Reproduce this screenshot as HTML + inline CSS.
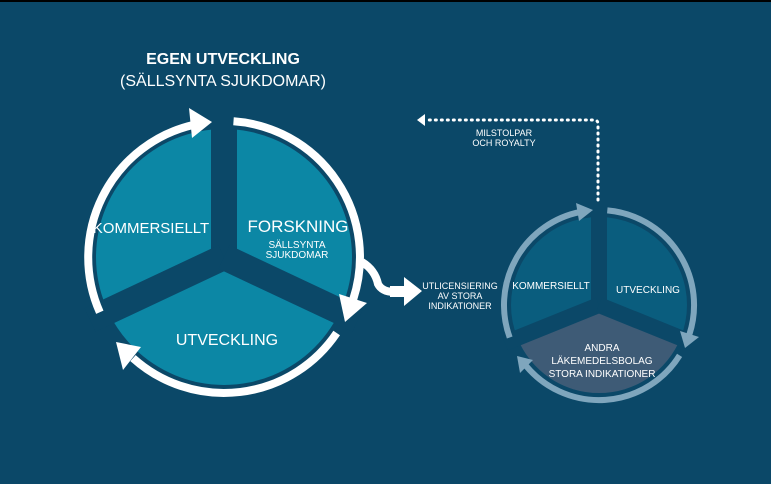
<!DOCTYPE html>
<html><head><meta charset="utf-8"><style>
html,body{margin:0;padding:0;background:#0b4868;}
svg{display:block;}
text{font-family:"Liberation Sans",sans-serif;fill:#fff;}
</style></head><body>
<svg width="771" height="484" viewBox="0 0 771 484" xmlns="http://www.w3.org/2000/svg">
<rect width="771" height="484" fill="#0b4868"/>
<rect width="771" height="2" fill="#000"/>
<text x="223" y="64" font-size="16" font-weight="bold" text-anchor="middle">EGEN UTVECKLING</text>
<text x="223" y="86" font-size="16" text-anchor="middle">(SÄLLSYNTA SJUKDOMAR)</text>

<!-- big circle -->
<circle cx="224" cy="257" r="128" fill="#0c87a5"/>
<g stroke="#0b4868" stroke-width="26" stroke-linecap="butt">
<line x1="224" y1="257" x2="224" y2="110"/>
<line x1="224" y1="257" x2="90" y2="320"/>
<line x1="224" y1="257" x2="358" y2="320"/>
</g>
<g fill="none" stroke="#fff" stroke-width="8">
<path d="M99.8,312.3 A136,136 0 0 1 193,125"/>
<path d="M233.5,121.3 A136,136 0 0 1 353.3,299"/>
<path d="M336.7,333 A136,136 0 0 1 133,358.1"/>
<path d="M362,262 Q375,270 378,284 Q382,292 395,292"/>
</g>
<g fill="#fff">
<polygon points="212,122 189,108 192,138"/>
<polygon points="345,322 339,294 367,303"/>
<polygon points="116,342 141,347 123,370"/>
<rect x="390" y="286" width="16" height="11"/>
<polygon points="404,277 422,291 404,306"/>
</g>
<text x="151" y="233" font-size="15" text-anchor="middle">KOMMERSIELLT</text>
<text x="298" y="232" font-size="17" text-anchor="middle">FORSKNING</text>
<text x="297" y="248" font-size="10" text-anchor="middle">SÄLLSYNTA</text>
<text x="297" y="258" font-size="10" text-anchor="middle">SJUKDOMAR</text>
<text x="227" y="345" font-size="16" text-anchor="middle">UTVECKLING</text>

<text x="460" y="289" font-size="9" text-anchor="middle">UTLICENSIERING</text>
<text x="460" y="299" font-size="9" text-anchor="middle">AV STORA</text>
<text x="460" y="309" font-size="9" text-anchor="middle">INDIKATIONER</text>

<!-- dotted -->
<path d="M598,200 V124 Q598,120 594,120 H426" fill="none" stroke="#fff" stroke-width="3" stroke-dasharray="1 5" stroke-linecap="round"/>
<polygon points="417,120 425,114 425,126" fill="#fff"/>
<text x="504" y="136" font-size="9" text-anchor="middle">MILSTOLPAR</text>
<text x="504" y="146" font-size="9" text-anchor="middle">OCH ROYALTY</text>

<!-- small circle -->
<circle cx="599" cy="305" r="88" fill="#0a5d7e"/>
<path d="M599,305 L680.6,338 A88,88 0 0 1 517.4,338 Z" fill="#3e5b76"/>
<g stroke="#0b4868" stroke-width="16">
<line x1="599" y1="305" x2="599" y2="210"/>
<line x1="599" y1="305" x2="505" y2="343"/>
<line x1="599" y1="305" x2="693" y2="343"/>
</g>
<g fill="none" stroke="#7fa6bd" stroke-width="6">
<path d="M509.7,337.5 A95,95 0 0 1 580,212"/>
<path d="M607.3,210.4 A95,95 0 0 1 689.4,334.4"/>
<path d="M679.6,355.4 A95,95 0 0 1 526.2,366.1"/>
</g>
<g fill="#7fa6bd">
<polygon points="593,210 579,221 576,203"/>
<polygon points="685,348 680,331 699,337"/>
<polygon points="517,356 533,360 520,373"/>
</g>
<text x="551" y="289" font-size="10" text-anchor="middle">KOMMERSIELLT</text>
<text x="648" y="293" font-size="10" text-anchor="middle">UTVECKLING</text>
<text x="602" y="351" font-size="10" text-anchor="middle">ANDRA</text>
<text x="602" y="364" font-size="10" text-anchor="middle">LÄKEMEDELSBOLAG</text>
<text x="602" y="377" font-size="10" text-anchor="middle">STORA INDIKATIONER</text>
</svg>
</body></html>
